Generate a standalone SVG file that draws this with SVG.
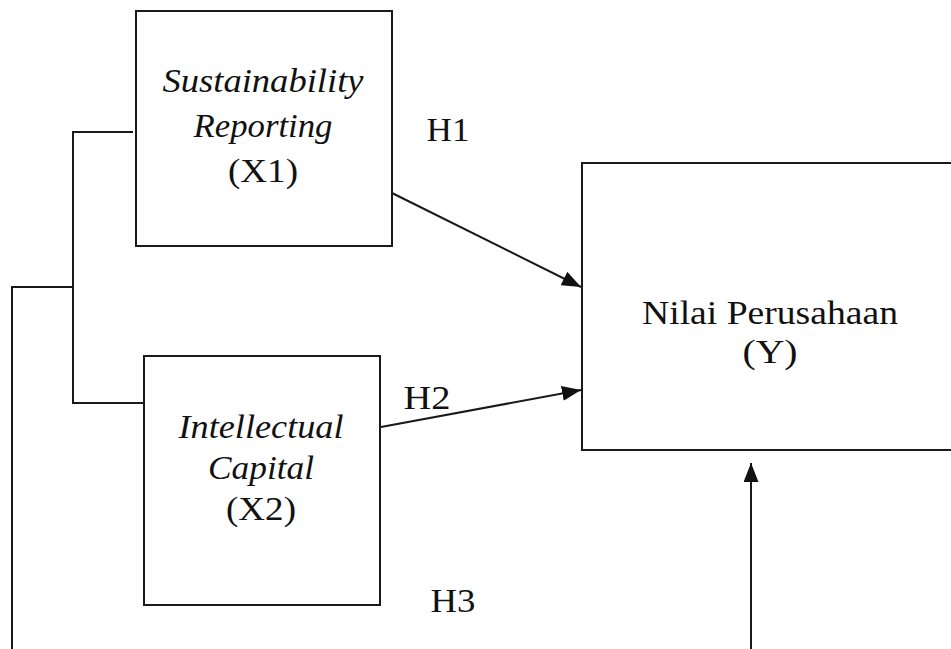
<svg xmlns="http://www.w3.org/2000/svg" width="951" height="649" viewBox="0 0 951 649">
<style>
.box{fill:#fff;stroke:#1a1a1a;stroke-width:2}
.ln{fill:none;stroke:#1a1a1a;stroke-width:2}
.t{font-family:"Liberation Serif","Times New Roman",serif;font-size:33px;fill:#111;text-anchor:middle}
.i{font-style:italic}
</style>
<defs>
<marker id="ah" markerUnits="userSpaceOnUse" markerWidth="20" markerHeight="16" refX="19" refY="7.5" orient="auto">
<path d="M0,0 L19,7.5 L0,15 z" fill="#111"/>
</marker>
</defs>
<rect width="951" height="649" fill="#fff"/>
<g id="connectors">
<polyline class="ln" points="133,132 73,132 73,403 144,403"/>
<polyline class="ln" points="73,287 12,287 12,649"/>
<line class="ln" x1="392" y1="193" x2="581" y2="287" marker-end="url(#ah)"/>
<line class="ln" x1="381" y1="427" x2="581" y2="390" marker-end="url(#ah)"/>
<line class="ln" x1="751" y1="649" x2="751" y2="463" marker-end="url(#ah)"/>
<text class="t" x="448" y="141" textLength="43" lengthAdjust="spacingAndGlyphs">H1</text>
<text class="t" x="427" y="409" textLength="47" lengthAdjust="spacingAndGlyphs">H2</text>
<text class="t" x="453" y="612" textLength="45" lengthAdjust="spacingAndGlyphs">H3</text>
</g>
<g id="x1">
<rect class="box" x="136" y="11" width="256" height="235"/>
<text class="t i" x="263" y="92" textLength="201" lengthAdjust="spacingAndGlyphs">Sustainability</text>
<text class="t i" x="263" y="137" textLength="139" lengthAdjust="spacingAndGlyphs">Reporting</text>
<text class="t" x="263" y="182" textLength="70" lengthAdjust="spacingAndGlyphs">(X1)</text>
</g>
<g id="x2">
<rect class="box" x="144" y="356" width="236" height="249"/>
<text class="t i" x="261" y="438" textLength="165" lengthAdjust="spacingAndGlyphs">Intellectual</text>
<text class="t i" x="261" y="479" textLength="106" lengthAdjust="spacingAndGlyphs">Capital</text>
<text class="t" x="261" y="520" textLength="70" lengthAdjust="spacingAndGlyphs">(X2)</text>
</g>
<g id="y">
<rect class="box" x="582" y="163" width="400" height="287"/>
<text class="t" x="770" y="324" textLength="256" lengthAdjust="spacingAndGlyphs">Nilai Perusahaan</text>
<text class="t" x="770" y="363" textLength="55" lengthAdjust="spacingAndGlyphs">(Y)</text>
</g>
</svg>
